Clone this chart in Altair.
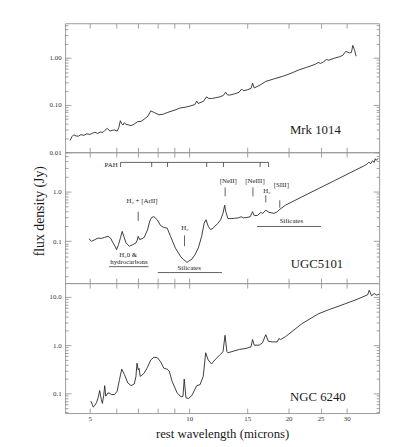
import altair as alt
import pandas as pd

SERIF = "Liberation Serif"
LINE_COLOR = "#262626"
FRAME_COLOR = "#9b9b9b"
TICK_COLOR = "#8a8a8a"
TEXT_COLOR = "#1a1a1a"
PLOT_W = 319

WL_DOMAIN = [4.21, 37.6]
X_TICKS = [5, 6, 7, 8, 9, 10, 15, 20, 25, 30]
X_LABELS = [5, 10, 15, 20, 25, 30]
Y_TITLE = "flux density (Jy)"
X_TITLE = "rest wavelength (microns)"

# ---------------- Mrk 1014 ----------------
mrk_wl = [4.36, 4.42, 4.47, 4.55, 4.62, 4.70, 4.80, 4.90, 5.00, 5.10, 5.18, 5.28,
          5.40, 5.48, 5.55, 5.65, 5.75, 5.85, 5.94, 6.05, 6.12, 6.19, 6.25, 6.30,
          6.36, 6.44, 6.55, 6.67, 6.80, 6.98, 7.15, 7.31, 7.50, 7.65, 7.85, 8.10,
          8.35, 8.58, 9.00, 9.40, 9.75, 10.07, 10.40, 10.54, 10.65, 10.79, 11.05,
          11.29, 11.45, 11.69, 12.00, 12.40, 12.70, 12.89, 13.05, 13.26, 13.70,
          14.15, 14.42, 14.60, 15.00, 15.40, 15.56, 15.74, 16.40, 17.06, 18.00,
          19.12, 20.20, 21.45, 22.70, 24.06, 24.60, 25.00, 25.50, 26.05, 26.50,
          27.50, 28.50, 29.22, 29.80, 30.60, 31.00, 31.30, 31.70, 32.03]
mrk_flux = [0.0178, 0.0215, 0.0233, 0.0220, 0.0219, 0.0235, 0.0228, 0.0245, 0.0238,
            0.0252, 0.0265, 0.0250, 0.0268, 0.0262, 0.0287, 0.0320, 0.0280, 0.0290,
            0.0296, 0.0280, 0.0330, 0.0464, 0.0400, 0.0376, 0.0420, 0.0390, 0.0380,
            0.0365, 0.0390, 0.0443, 0.0450, 0.0501, 0.0580, 0.0750, 0.0690, 0.0619,
            0.0640, 0.0691, 0.0770, 0.0866, 0.0900, 0.0953, 0.1020, 0.1212, 0.1080,
            0.1116, 0.1200, 0.1490, 0.1380, 0.1373, 0.1420, 0.1490, 0.1600, 0.1866,
            0.1650, 0.1616, 0.1720, 0.1850, 0.2186, 0.2000, 0.2100, 0.2250, 0.2917,
            0.2293, 0.2650, 0.3162, 0.3550, 0.4019, 0.4600, 0.5519, 0.6300, 0.7250,
            0.8000, 0.7600, 0.8200, 0.9220, 0.8900, 0.9800, 1.0500, 1.1330, 1.3700,
            1.2700, 1.3000, 1.8300, 1.4400, 1.0800]

# ---------------- UGC 5101 ----------------
ugc_wl = [4.97, 5.06, 5.18, 5.30, 5.42, 5.55, 5.68, 5.78, 5.88, 5.96, 6.03, 6.11,
          6.20, 6.27, 6.34, 6.44, 6.59, 6.75, 6.90, 6.96, 7.01, 7.08, 7.20, 7.31,
          7.48, 7.60, 7.70, 7.82, 8.01, 8.19, 8.38, 8.58, 8.78, 9.08, 9.40, 9.60,
          9.68, 9.73, 9.84, 9.95, 10.20, 10.42, 10.66, 10.91, 11.10, 11.25, 11.42,
          11.60, 11.80, 11.96, 12.20, 12.45, 12.66, 12.81, 12.90, 13.10, 13.40,
          13.72, 14.10, 14.37, 14.60, 14.87, 15.30, 15.56, 15.74, 16.10, 16.48,
          16.70, 17.06, 17.45, 18.06, 18.50, 18.69, 19.57, 21.94, 24.60, 27.60,
          30.94, 33.91, 34.60, 35.00, 35.49, 35.90, 36.33, 36.60, 36.90, 37.34]
ugc_flux = [0.1125, 0.1000, 0.1075, 0.1160, 0.1140, 0.1200, 0.1256, 0.1160, 0.0926,
            0.0800, 0.0680, 0.0857, 0.1200, 0.1576, 0.1256, 0.0926, 0.0796, 0.0857,
            0.0926, 0.1050, 0.1256, 0.1080, 0.1130, 0.1200, 0.1695, 0.2550, 0.3000,
            0.3119, 0.2673, 0.2071, 0.1891, 0.1832, 0.1256, 0.0737, 0.0505, 0.0430,
            0.0420, 0.0402, 0.0378, 0.0395, 0.0440, 0.0543, 0.0737, 0.1256, 0.2300,
            0.2700, 0.2006, 0.1726, 0.1800, 0.2006, 0.2250, 0.2700, 0.3624, 0.5290,
            0.4000, 0.2848, 0.2850, 0.2887, 0.2950, 0.3100, 0.2950, 0.2980, 0.3100,
            0.3916, 0.3265, 0.3300, 0.3794, 0.3600, 0.4212, 0.3794, 0.3624, 0.3900,
            0.4212, 0.5290, 0.7750, 1.1310, 1.6500, 2.4170, 3.2640, 3.5500, 3.8500,
            3.6000, 4.1000, 3.8000, 4.5000, 4.2000, 4.6000]

# ---------------- NGC 6240 ----------------
ngc_wl = [5.04, 5.09, 5.12, 5.18, 5.24, 5.30, 5.36, 5.42, 5.46, 5.51, 5.55, 5.59,
          5.68, 5.75, 5.81, 5.94, 6.05, 6.15, 6.25, 6.37, 6.52, 6.67, 6.82, 6.90,
          6.95, 7.01, 7.05, 7.11, 7.31, 7.48, 7.65, 7.82, 8.01, 8.19, 8.38, 8.58,
          8.70, 8.88, 9.19, 9.45, 9.58, 9.66, 9.78, 9.95, 10.19, 10.54, 10.79, 11.03,
          11.22, 11.42, 11.69, 11.96, 12.37, 12.66, 12.84, 13.01, 13.10, 14.20,
          14.87, 15.39, 15.56, 15.74, 16.29, 16.67, 17.06, 17.36, 17.85, 18.47,
          18.69, 18.91, 19.57, 21.94, 24.60, 26.36, 29.57, 32.39, 34.70, 35.11,
          35.67, 36.33, 37.00, 37.61]
ngc_flux = [0.0689, 0.0590, 0.0519, 0.0560, 0.0639, 0.0809, 0.1141, 0.0746, 0.0618,
            0.0900, 0.1445, 0.0872, 0.1024, 0.1000, 0.0945, 0.0945, 0.1104, 0.1918,
            0.3177, 0.2428, 0.1641, 0.1445, 0.1565, 0.2241, 0.4217, 0.3074, 0.3300,
            0.2241, 0.2630, 0.3491, 0.4929, 0.5598, 0.5493, 0.4548, 0.3331, 0.3177,
            0.2900, 0.1770, 0.1024, 0.0848, 0.0870, 0.1982, 0.0809, 0.0782, 0.0902,
            0.1445, 0.1515, 0.2241, 0.6952, 0.4929, 0.4081, 0.4929, 0.6237, 0.7291,
            1.6030, 0.7291, 0.6952, 0.8165, 0.8558, 0.9230, 1.3090, 1.0000, 1.0000,
            1.1150, 1.6570, 1.2080, 1.1680, 1.1680, 1.3720, 1.3090, 1.5000, 2.7840,
            4.4630, 5.3910, 7.1530, 9.0570, 11.090, 13.850, 10.580, 11.800, 10.940,
            11.470]

# ---------------- panel names ----------------
names = ["Mrk 1014", "UGC5101", "NGC 6240"]
name_wl = [20.2, 20.3, 20.2]
name_flux = [0.0292, 0.0356, 0.082]

# ---------------- UGC 5101 annotations ----------------
ann_text = ["PAH", "H\u2082 + [ArII]", "H\u2082", "[NeII]", "[NeIII]", "H\u2082",
            "[SIII]", "H\u20820 &", "hydrocarbons", "Silicates", "Silicates"]
ann_wl = [5.80, 7.20, 9.71, 13.14, 15.82, 17.21, 19.01, 6.54, 6.57, 10.0, 20.4]
ann_flux = [3.42, 0.646, 0.183, 1.605, 1.605, 1.03, 1.36, 0.0529, 0.039, 0.0287, 0.26]

pah_wl = [6.2, 7.7, 8.6, 11.3, 12.7, 16.4, 17.4]
pah_bar_flux = 3.81
pah_tick_flux = 3.08

line_wl = [7.01, 9.68, 12.85, 15.6, 17.06, 18.81]
line_top = [0.392, 0.131, 1.2, 1.2, 0.834, 0.664]
line_bot = [0.255, 0.0797, 0.796, 0.796, 0.598, 0.47]

band_start = [5.72, 8.04, 16.04]
band_end = [7.53, 12.57, 25.07]
band_flux = [0.031, 0.0236, 0.198]


def minor_values(lo, hi):
    vals = []
    for dec in [0.01, 0.1, 1, 10]:
        for m in range(2, 10):
            v = round(m * dec, 4)
            if lo < v < hi:
                vals.append(v)
    return vals


def panel(wl, flux, ydom, ymajor, yfmt, height, idx, bottom=False,
          ytitle=False, extra=None):
    df = pd.DataFrame({"wl": wl, "flux": flux})
    xs = alt.Scale(type="log", domain=WL_DOMAIN, nice=False)
    ys = alt.Scale(type="log", domain=ydom, nice=False)
    yminor = minor_values(ydom[0], ydom[1])

    common = dict(domain=False, grid=False, tickColor=TICK_COLOR, tickWidth=0.8,
                  minExtent=0)
    x_bottom = alt.Axis(orient="bottom", values=X_TICKS, offset=-5, tickSize=5,
                        labels=bottom, format="d",
                        labelExpr=f"indexof({X_LABELS}, datum.value) >= 0 ? datum.label : ''",
                        labelFont=SERIF, labelFontSize=7, labelColor="#333",
                        labelPadding=2, labelFlush=False, labelOverlap=False,
                        titleFont=SERIF, titleFontSize=13, titleFontWeight="normal",
                        titleColor=TEXT_COLOR, titlePadding=6, **common)
    x_top = alt.Axis(orient="top", values=X_TICKS, offset=-5, tickSize=5,
                     labels=False, **common)
    y_left = alt.Axis(orient="left", values=ymajor, format=yfmt, offset=-6,
                      tickSize=6, labelFont=SERIF, labelFontSize=7,
                      labelColor="#333", labelPadding=4, labelFlush=False,
                      labelOverlap=False, **common)
    y_right = alt.Axis(orient="right", values=ymajor, offset=-6, tickSize=6,
                       labels=False, **common)
    y_left_minor = alt.Axis(orient="left", values=yminor, offset=-3, tickSize=3,
                            labels=False, **common)
    y_right_minor = alt.Axis(orient="right", values=yminor, offset=-3, tickSize=3,
                             labels=False, **common)

    base = alt.Chart(df)
    xtitle = X_TITLE if bottom else None
    layers = [
        base.mark_line(color=LINE_COLOR, strokeWidth=0.9).encode(
            x=alt.X("wl:Q", scale=xs, axis=x_bottom, title=xtitle),
            y=alt.Y("flux:Q", scale=ys, axis=y_left, title=None)),
        base.mark_line(strokeOpacity=0).encode(
            x=alt.X("wl:Q", scale=xs, axis=x_top, title=None),
            y=alt.Y("flux:Q", scale=ys, axis=y_right, title=None)),
        base.mark_line(strokeOpacity=0).encode(
            x=alt.X("wl:Q", scale=xs, axis=None),
            y=alt.Y("flux:Q", scale=ys, axis=y_left_minor, title=None)),
        base.mark_line(strokeOpacity=0).encode(
            x=alt.X("wl:Q", scale=xs, axis=None),
            y=alt.Y("flux:Q", scale=ys, axis=y_right_minor, title=None)),
    ]
    name_df = pd.DataFrame({"wl": [name_wl[idx]], "flux": [name_flux[idx]],
                            "label": [names[idx]]})
    layers.append(
        alt.Chart(name_df).mark_text(align="left", baseline="middle", font=SERIF,
                                     fontSize=13, color=TEXT_COLOR).encode(
            x=alt.X("wl:Q", scale=xs, axis=None),
            y=alt.Y("flux:Q", scale=ys, axis=None),
            text="label:N"))
    if ytitle:
        # shared y-axis title, drawn to the left of the middle panel
        layers.append(
            alt.Chart(pd.DataFrame({"t": [Y_TITLE]})).mark_text(
                angle=270, align="center", baseline="middle", font=SERIF,
                fontSize=14, color=TEXT_COLOR).encode(
                x=alt.value(-25.5), y=alt.value(60), text="t:N"))
    if extra:
        layers.extend(extra(xs, ys))
    return alt.layer(*layers).resolve_axis(
        x="independent", y="independent").properties(width=PLOT_W, height=height)


def ugc_annotations(xs, ys):
    ann_df = pd.DataFrame({"wl": ann_wl, "flux": ann_flux, "label": ann_text})
    rows = []
    rows.append((pah_wl[0], pah_wl[-1], pah_bar_flux, pah_bar_flux))
    for w in pah_wl:
        rows.append((w, w, pah_bar_flux, pah_tick_flux))
    for w, t, b in zip(line_wl, line_top, line_bot):
        rows.append((w, w, t, b))
    for s, e, f in zip(band_start, band_end, band_flux):
        rows.append((s, e, f, f))
    rule_df = pd.DataFrame(rows, columns=["x1", "x2", "y1", "y2"])
    text = alt.Chart(ann_df).mark_text(align="center", baseline="middle",
                                       font=SERIF, fontSize=7,
                                       color=TEXT_COLOR).encode(
        x=alt.X("wl:Q", scale=xs, axis=None),
        y=alt.Y("flux:Q", scale=ys, axis=None),
        text="label:N")
    rules = alt.Chart(rule_df).mark_rule(color="#3a3a3a", strokeWidth=0.8).encode(
        x=alt.X("x1:Q", scale=xs, axis=None), x2="x2:Q",
        y=alt.Y("y1:Q", scale=ys, axis=None), y2="y2:Q")
    return [rules, text]


top = panel(mrk_wl, mrk_flux, [0.01, 5.4], [0.01, 0.1, 1], ".2f", 131, 0)
mid = panel(ugc_wl, ugc_flux, [0.0145, 6.1], [0.1, 1], ".1f", 133, 1,
            ytitle=True, extra=ugc_annotations)
bot = panel(ngc_wl, ngc_flux, [0.039, 19.4], [0.1, 1, 10], ".1f", 132, 2,
            bottom=True)

chart = alt.vconcat(top, mid, bot, spacing=0, bounds="flush").properties(
    padding={"left": 24, "top": 11, "right": 4, "bottom": 2}
).configure(background="white").configure_view(stroke=FRAME_COLOR, strokeWidth=1)

chart.save("out.html", embed_options={"renderer": "svg", "actions": False})
